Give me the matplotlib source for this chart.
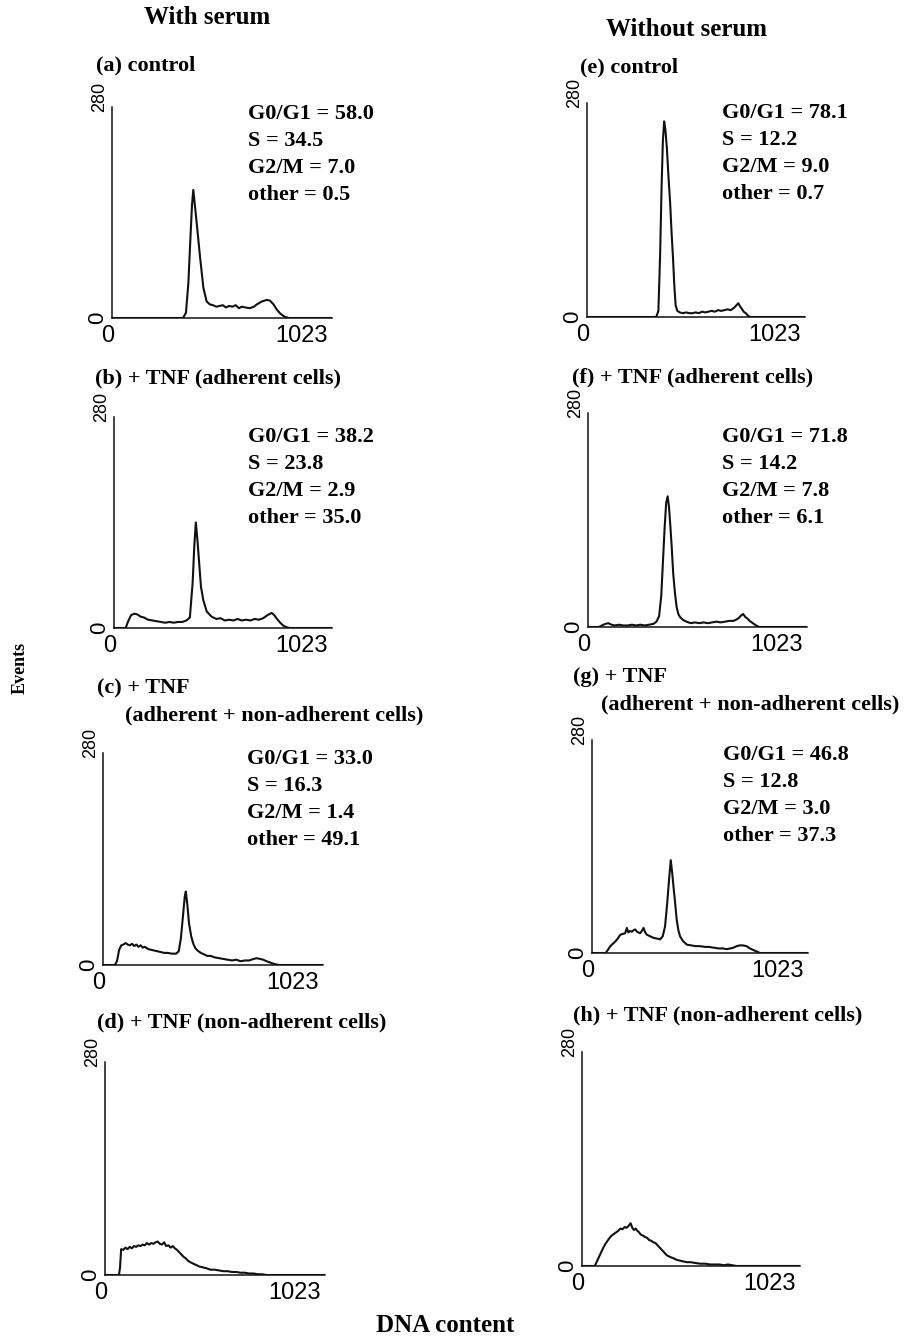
import matplotlib.pyplot as plt

# DNA histograms (channel, events)
ch_a = [0, 330, 344, 355, 365, 372, 378, 386, 397, 409, 425, 440, 455, 470, 485, 500, 515, 530,
        545, 560, 575, 590, 605, 620, 640, 660, 673, 697, 720, 735, 751, 767, 782, 801, 821, 1023]
ev_a = [0, 0, 7, 46, 108, 150, 170, 148, 117, 82, 40, 22, 18, 17, 15, 16, 17, 14,
        16, 15, 17, 13, 15, 14, 13, 15, 18, 22, 24, 23, 18, 11, 6, 2, 0, 0]

ch_b = [0, 55, 65, 80, 95, 110, 125, 140, 160, 180, 200, 220, 240, 260, 280, 300, 320, 340, 356,
        369, 377, 384, 392, 400, 408, 419, 435, 458, 480, 500, 520, 540, 560, 580, 600, 620, 640,
        660, 680, 700, 720, 740, 752, 765, 780, 795, 810, 825, 1023]
ev_b = [0, 0, 8, 17, 19, 18, 15, 14, 11, 10, 9, 8, 7, 8, 7, 8, 8, 10, 14,
        60, 110, 140, 115, 85, 55, 37, 22, 15, 12, 13, 10, 11, 10, 12, 10, 11, 10,
        12, 11, 13, 17, 20, 17, 12, 7, 3, 1, 0, 0]

ch_c = [0, 55, 65, 75, 85, 95, 105, 115, 125, 135, 145, 155, 165, 175, 185, 195, 210, 225, 240,
        255, 270, 285, 300, 320, 340, 352, 362, 372, 380, 385, 392, 400, 410, 420, 430, 440, 455,
        470, 485, 500, 520, 540, 560, 580, 600, 620, 640, 660, 680, 700, 715, 730, 745, 760, 780,
        800, 820, 1023]
ev_c = [0, 0, 5, 20, 26, 27, 29, 27, 26, 28, 25, 27, 24, 26, 23, 24, 21, 20, 19,
        18, 17, 16, 16, 15, 15, 18, 35, 65, 90, 97, 80, 55, 38, 28, 22, 19, 16,
        14, 12, 12, 10, 9, 8, 7, 6, 7, 5, 6, 6, 8, 9, 8, 7, 5, 3,
        1, 0, 0]

ch_d = [0, 65, 70, 75, 85, 95, 105, 115, 125, 135, 145, 155, 165, 175, 185, 195, 205, 215, 225,
        235, 245, 255, 265, 275, 285, 295, 305, 315, 325, 335, 345, 355, 365, 375, 385, 395, 410,
        425, 440, 455, 470, 490, 510, 530, 550, 570, 590, 610, 630, 650, 670, 690, 710, 730, 750,
        1023]
ev_d = [0, 0, 10, 34, 33, 36, 34, 37, 35, 38, 37, 39, 38, 40, 39, 42, 40, 42, 41,
        43, 44, 41, 40, 43, 38, 39, 36, 38, 35, 33, 30, 27, 24, 22, 19, 17, 15,
        13, 11, 10, 9, 7, 7, 6, 5, 5, 4, 4, 3, 3, 2, 2, 1, 1, 0,
        0]

ch_e = [0, 325, 335, 343, 350, 356, 362, 368, 375, 382, 390, 397, 404, 410, 416, 424, 435, 450,
        465, 480, 495, 510, 525, 540, 555, 570, 585, 600, 615, 630, 645, 660, 675, 690, 700, 710,
        718, 726, 735, 745, 755, 765, 1023]
ev_e = [0, 0, 8, 80, 170, 230, 256, 245, 220, 185, 150, 110, 75, 40, 15, 8, 6, 5,
        6, 5, 5, 6, 5, 7, 6, 7, 8, 7, 9, 8, 9, 10, 9, 12, 15, 18,
        14, 11, 7, 5, 2, 0, 0]

ch_f = [0, 50, 65, 80, 95, 110, 125, 145, 165, 185, 205, 225, 245, 265, 285, 305, 320, 332, 342,
        350, 358, 365, 372, 378, 384, 391, 398, 406, 414, 422, 430, 445, 460, 480, 500, 520, 540,
        560, 580, 600, 620, 640, 660, 680, 695, 705, 715, 725, 735, 745, 755, 770, 785, 800, 1023]
ev_f = [0, 0, 2, 4, 5, 3, 2, 3, 2, 2, 3, 2, 3, 2, 3, 4, 7, 14, 40,
        85, 130, 162, 171, 158, 135, 105, 70, 45, 26, 17, 13, 9, 7, 5, 6, 5, 6,
        5, 6, 7, 6, 7, 8, 8, 10, 12, 15, 17, 13, 11, 8, 5, 2, 0, 0]

ch_g = [0, 65, 75, 87, 98, 110, 122, 134, 145, 157, 165, 172, 180, 189, 197, 205, 213, 220, 228,
        236, 244, 252, 260, 275, 291, 307, 323, 335, 346, 356, 366, 373, 380, 386, 394, 401, 409,
        417, 430, 449, 470, 490, 512, 535, 555, 575, 600, 620, 637, 655, 670, 685, 700, 715, 732,
        748, 763, 780, 795, 1023]
ev_g = [0, 0, 4, 9, 12, 15, 19, 24, 25, 26, 33, 27, 29, 28, 30, 31, 28, 27, 26,
        29, 33, 27, 24, 22, 20, 19, 18, 22, 35, 65, 100, 122, 105, 87, 65, 44, 30,
        22, 16, 11, 10, 9, 9, 8, 8, 7, 6, 6, 5, 6, 7, 9, 10, 10, 9,
        6, 4, 2, 0, 0]

ch_h = [0, 60, 70, 80, 90, 100, 110, 120, 130, 140, 150, 160, 170, 180, 190, 200, 210, 220, 228,
        236, 244, 252, 260, 268, 276, 285, 295, 305, 315, 325, 335, 345, 355, 365, 375, 385, 398,
        412, 430, 445, 460, 475, 492, 510, 530, 555, 580, 600, 620, 645, 665, 685, 705, 725, 1023]
ev_h = [0, 0, 6, 12, 18, 24, 29, 33, 37, 40, 42, 44, 46, 49, 48, 51, 50, 53, 56,
        50, 47, 49, 46, 44, 41, 40, 38, 37, 34, 33, 31, 30, 27, 24, 21, 18, 14,
        12, 10, 8, 7, 6, 5, 5, 4, 3, 3, 2, 2, 2, 1, 2, 1, 0, 0]

titles = {
    'a': ['(a) control'],
    'b': ['(b) + TNF (adherent cells)'],
    'c': ['(c) + TNF', '(adherent + non-adherent cells)'],
    'd': ['(d) + TNF (non-adherent cells)'],
    'e': ['(e) control'],
    'f': ['(f) + TNF (adherent cells)'],
    'g': ['(g) + TNF', '(adherent + non-adherent cells)'],
    'h': ['(h) + TNF (non-adherent cells)'],
}

g0g1 = {'a': '58.0', 'b': '38.2', 'c': '33.0', 'e': '78.1', 'f': '71.8', 'g': '46.8'}
s_phase = {'a': '34.5', 'b': '23.8', 'c': '16.3', 'e': '12.2', 'f': '14.2', 'g': '12.8'}
g2m = {'a': '7.0', 'b': '2.9', 'c': '1.4', 'e': '9.0', 'f': '7.8', 'g': '3.0'}
other = {'a': '0.5', 'b': '35.0', 'c': '49.1', 'e': '0.7', 'f': '6.1', 'g': '37.3'}

curves = {'a': (ch_a, ev_a), 'b': (ch_b, ev_b), 'c': (ch_c, ev_c), 'd': (ch_d, ev_d),
          'e': (ch_e, ev_e), 'f': (ch_f, ev_f), 'g': (ch_g, ev_g), 'h': (ch_h, ev_h)}

W, H = 908, 1342
# pixel boxes: spine left, spine right, spine top, baseline
boxes = {'a': (112, 332, 107, 318), 'b': (114, 332, 417, 628),
         'c': (103, 323, 753, 965), 'd': (105, 325, 1062, 1275),
         'e': (587, 805, 103, 317), 'f': (588, 807, 413, 627),
         'g': (592, 808, 740, 953), 'h': (582, 800, 1052, 1266)}
title_pos = {'a': (96, 65), 'b': (95, 378), 'c': (97, 688), 'd': (97, 1022),
             'e': (580, 67), 'f': (572, 377), 'g': (573, 677), 'h': (573, 1015)}
stats_pos = {'a': (248, 114), 'b': (248, 437), 'c': (247, 759),
             'e': (722, 113), 'f': (722, 437), 'g': (723, 755)}

serif = 'Liberation Serif'
sans = 'Liberation Sans'
ink = '#111111'

fig = plt.figure(figsize=(W / 100, H / 100), dpi=100)


def fx(x):
    return x / W


def fy(y):
    return 1 - y / H


for key, (x0, x1, yt, yb) in boxes.items():
    ax = fig.add_axes([fx(x0), fy(yb), (x1 - x0) / W, (yb - yt) / H])
    ch, ev = curves[key]
    ax.plot(ch, ev, color=ink, lw=1.5, solid_joinstyle='round')
    ax.set_xlim(0, 1023)
    ax.set_ylim(0, 280)
    for side in ['top', 'right']:
        ax.spines[side].set_visible(False)
    for side in ['left', 'bottom']:
        ax.spines[side].set_linewidth(1.1)
        ax.spines[side].set_color(ink)
    ax.set_xticks([])
    ax.set_yticks([])
    ax.patch.set_alpha(0)
    # axis end labels
    ax.annotate('0', xy=(0, 0), xycoords='axes fraction', xytext=(-3, -5),
                textcoords='offset points', ha='center', va='top', fontsize=17, family=sans)
    ax.annotate('1023', xy=(1, 0), xycoords='axes fraction', xytext=(-3, -5),
                textcoords='offset points', ha='right', va='top', fontsize=17, family=sans)
    ax.annotate('0', xy=(0, 0), xycoords='axes fraction', xytext=(-3, 0),
                textcoords='offset points', ha='right', va='center', rotation=90,
                fontsize=16, family=sans)
    ax.annotate('280', xy=(0, 1), xycoords='axes fraction', xytext=(-3, 7),
                textcoords='offset points', ha='right', va='center', rotation=90,
                fontsize=13, family=sans)

    tx, ty = title_pos[key]
    fig.text(fx(tx), fy(ty), titles[key][0], ha='left', va='center',
             fontsize=16, family=serif, weight='bold')
    if len(titles[key]) > 1:
        fig.text(fx(tx + 28), fy(ty + 27), titles[key][1], ha='left', va='center',
                 fontsize=16, family=serif, weight='bold')

    if key in g0g1:
        sx, sy = stats_pos[key]
        lines = ['G0/G1 = ' + g0g1[key], 'S = ' + s_phase[key],
                 'G2/M = ' + g2m[key], 'other = ' + other[key]]
        for i, line in enumerate(lines):
            fig.text(fx(sx), fy(sy + 27 * i), line, ha='left', va='center',
                     fontsize=16, family=serif, weight='bold')

fig.text(fx(207), fy(17), 'With serum', ha='center', va='center',
         fontsize=18, family=serif, weight='bold')
fig.text(fx(686), fy(30), 'Without serum', ha='center', va='center',
         fontsize=18, family=serif, weight='bold')
fig.text(fx(20), fy(668), 'Events', ha='center', va='center', rotation=90,
         fontsize=13, family=serif, weight='bold')
fig.text(fx(445), fy(1326), 'DNA content', ha='center', va='center',
         fontsize=18, family=serif, weight='bold')

fig.savefig('out.png', dpi=100)
